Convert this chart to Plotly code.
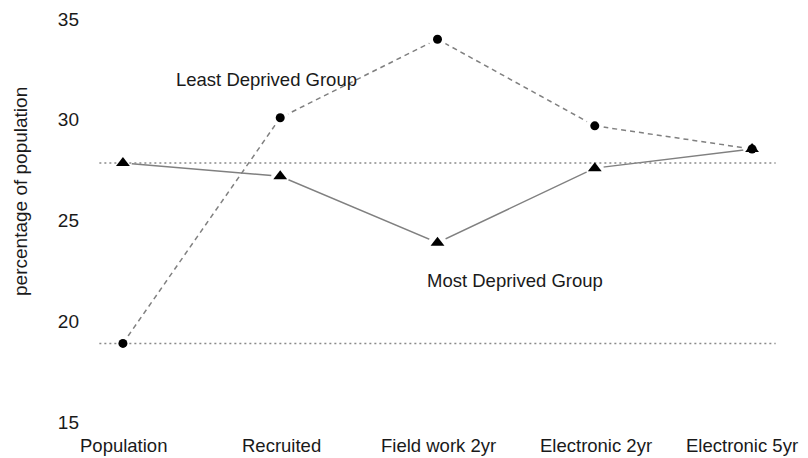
import plotly.graph_objects as go

categories = ["Population", "Recruited", "Field work 2yr", "Electronic 2yr", "Electronic 5yr"]
least_deprived = [18.9, 30.1, 34.0, 29.7, 28.55]
most_deprived = [27.85, 27.2, 23.9, 27.6, 28.55]
y_ticks = [15, 20, 25, 30, 35]

x_idx = list(range(len(categories)))
ref_x = [-0.15, len(categories) - 1 + 0.15]

fig = go.Figure()

# lines with white halos (gaps around points, like R type="b")
fig.add_trace(go.Scatter(
    x=x_idx, y=least_deprived, mode="lines+markers", name="Least Deprived Group",
    line=dict(color="#808080", width=1.5, dash="5px,4px"),
    marker=dict(symbol="circle", size=18, color="white"),
    hoverinfo="skip", showlegend=False))
fig.add_trace(go.Scatter(
    x=x_idx, y=most_deprived, mode="lines+markers", name="Most Deprived Group",
    line=dict(color="#808080", width=1.5),
    marker=dict(symbol="circle", size=18, color="white"),
    hoverinfo="skip", showlegend=False))

# population reference lines (dotted)
for val in (most_deprived[0], least_deprived[0]):
    fig.add_trace(go.Scatter(
        x=ref_x, y=[val, val], mode="lines",
        line=dict(color="#8a8a8a", width=1.5, dash="2px,3px"),
        hoverinfo="skip", showlegend=False))

# black point symbols
fig.add_trace(go.Scatter(
    x=x_idx, y=least_deprived, mode="markers",
    marker=dict(symbol="circle", size=9, color="black"), showlegend=False))
fig.add_trace(go.Scatter(
    x=x_idx, y=most_deprived, mode="markers",
    marker=dict(symbol="triangle-up", size=12, color="black"), showlegend=False))

fam = "Liberation Sans, Arial, sans-serif"
font = dict(family=fam, size=18.5, color="#1a1a1a")

fig.add_annotation(x=0.915, y=32.0, text="Least Deprived Group", showarrow=False,
                   font=font, xref="x", yref="y")
fig.add_annotation(x=2.49, y=22.0, text="Most Deprived Group", showarrow=False,
                   font=font, xref="x", yref="y")
fig.add_annotation(x=-0.084, y=0.569, xref="paper", yref="paper",
                   xanchor="center", yanchor="middle",
                   text="percentage of population", textangle=-90,
                   showarrow=False, font=dict(family=fam, size=19, color="#1a1a1a"))

# category labels along the x axis (last one kept inside the page edge)
for i, cat in enumerate(categories):
    last = i == len(categories) - 1
    fig.add_annotation(x=i, y=0, xref="x", yref="paper", text=cat,
                       showarrow=False, font=font,
                       xanchor="right" if last else "center", yanchor="middle",
                       xshift=(48 if last else 1), yshift=-15)

fig.update_layout(
    width=800, height=450,
    margin=dict(l=72, r=13, t=2, b=28),
    paper_bgcolor="white", plot_bgcolor="white",
    font=font,
    xaxis=dict(range=[-0.273, 4.273], tickmode="array", tickvals=x_idx,
               showticklabels=False, showgrid=False, zeroline=False,
               showline=False, ticks="", automargin=False),
    yaxis=dict(range=[14.6, 35.45], tickmode="array", tickvals=y_ticks,
               showgrid=False, zeroline=False, showline=False, ticks="",
               tickfont=dict(family=fam, size=19, color="#1a1a1a"), automargin=False),
)

fig.write_html("out.html")
